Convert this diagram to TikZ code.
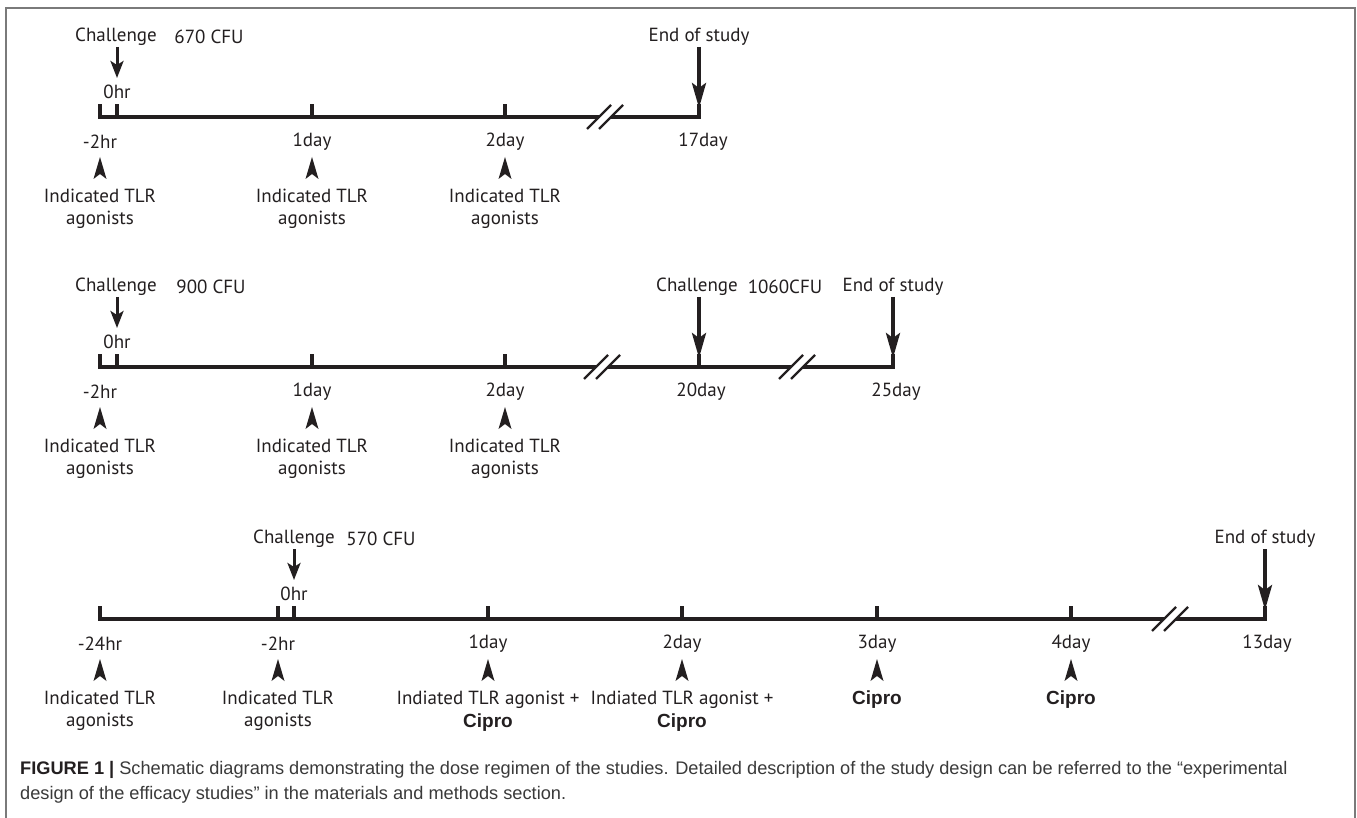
\documentclass[tikz,border=0pt]{standalone}
\usepackage{fontspec}
\setmainfont{PT Sans}
\newfontfamily\capfont{Liberation Sans}
\usetikzlibrary{arrows.meta}
\definecolor{ink}{HTML}{231F20}
\definecolor{framegray}{HTML}{7A7A7A}
\definecolor{capgray}{HTML}{3A3A3A}
\tikzset{
  lbl/.style={font=\fontsize{19}{22.5}\selectfont, text=ink, inner sep=0pt, align=center},
  axisline/.style={draw=ink, line width=4.5pt},
  tickmark/.style={draw=ink, line width=3.5pt},
  slash/.style={draw=ink, line width=2.4pt},
  shortarr/.style={draw=ink, line width=3pt, -{Stealth[length=17pt,width=13pt,inset=4pt]}},
  longarr/.style={draw=ink, line width=3.6pt, -{Stealth[length=25pt,width=14pt,inset=5pt]}},
  headfill/.style={fill=ink},
  captext/.style={anchor=base west, inner sep=0pt, text=capgray, font=\capfont\fontsize{18.2}{20}\selectfont},
}
\newcommand\brkmark[2]{%
  \draw[slash] (#1-18,#2+12) -- (#1+6,#2-12);
  \draw[slash] (#1-6,#2+12) -- (#1+18,#2-12);}
\newcommand\uphead[1]{%
  \fill[headfill] (#1) -- ++(6.5,22) -- ++(-6.5,-5) -- ++(-6.5,5) -- cycle;}
\begin{document}
\begin{tikzpicture}[x=1pt,y=-1pt]
\useasboundingbox (0,0) rectangle (1357,818);
\fill[white] (0,0) rectangle (1357,818);
% frame
\draw[framegray, line width=1.6pt] (6,820) -- (6,8) -- (1355,8) -- (1355,820);

% ================= Timeline 1 =================
\draw[axisline] (98.25,117) -- (599,117);
\draw[axisline] (611,117) -- (700.75,117);
\brkmark{605}{117}
\foreach \x/\n in {100/a,117/b,312/c,505/d,699/e}{
  \draw[tickmark] (\x,117) -- (\x,104);
  \coordinate (p1\n) at (\x,104);
}
\node[lbl] (c1t) at (116,37) {Challenge};
\node[lbl] (c1v) at (209,37) {670 CFU};
\node[lbl] (e1t) at (699,37) {End of study};
\coordinate (c1s) at (117,47);
\coordinate (c1e) at (117,78);
\draw[shortarr] (c1s) -- (c1e);
\node[lbl] (z1) at (117,92) {0hr};
\coordinate (e1s) at (699,47);
\draw[longarr] (e1s) -- ([yshift=-4pt]p1e);
\node[lbl] (l1a) at (100,142) {-2hr};
\node[lbl] (l1c) at (312,142) {1day};
\node[lbl] (l1d) at (505,142) {2day};
\node[lbl] (l1e) at (703,142) {17day};
\foreach \x/\n in {100/a,312/c,505/d}{
  \coordinate (h1\n) at (\x,157);
  \uphead{h1\n}
  \node[lbl] (g1\n) at (\x,209) {Indicated TLR\\agonists};
}

% ================= Timeline 2 =================
\draw[axisline] (98.25,367) -- (596,367);
\draw[axisline] (608,367) -- (791,367);
\draw[axisline] (803,367) -- (894.75,367);
\brkmark{602}{367}
\brkmark{797}{367}
\foreach \x/\n in {100/a,117/b,312/c,505/d,699/e,893/f}{
  \draw[tickmark] (\x,367) -- (\x,354);
  \coordinate (p2\n) at (\x,354);
}
\node[lbl] (c2t) at (116,287) {Challenge};
\node[lbl] (c2v) at (211,287) {900 CFU};
\node[lbl] (c2bt) at (697,287) {Challenge};
\node[lbl] (c2bv) at (785,287) {1060CFU};
\node[lbl] (e2t) at (893,287) {End of study};
\coordinate (c2s) at (117,297);
\coordinate (c2e) at (117,328);
\draw[shortarr] (c2s) -- (c2e);
\node[lbl] (z2) at (117,342) {0hr};
\coordinate (c2bs) at (699,297);
\draw[longarr] (c2bs) -- ([yshift=-4pt]p2e);
\coordinate (e2s) at (893,297);
\draw[longarr] (e2s) -- ([yshift=-4pt]p2f);
\node[lbl] (l2a) at (100,392) {-2hr};
\node[lbl] (l2c) at (312,392) {1day};
\node[lbl] (l2d) at (505,392) {2day};
\node[lbl] (l2e) at (701,392) {20day};
\node[lbl] (l2f) at (896,392) {25day};
\foreach \x/\n in {100/a,312/c,505/d}{
  \coordinate (h2\n) at (\x,407);
  \uphead{h2\n}
  \node[lbl] (g2\n) at (\x,459) {Indicated TLR\\agonists};
}

% ================= Timeline 3 =================
\draw[axisline] (98.25,619) -- (1164,619);
\draw[axisline] (1176,619) -- (1266.75,619);
\brkmark{1170}{619}
\foreach \x/\n in {100/a,278/b,294/c,488/d,682/e,877/f,1071/g,1265/h}{
  \draw[tickmark] (\x,619) -- (\x,606);
  \coordinate (p3\n) at (\x,606);
}
\node[lbl] (c3t) at (294,539) {Challenge};
\node[lbl] (c3v) at (381,539) {570 CFU};
\node[lbl] (e3t) at (1265,539) {End of study};
\coordinate (c3s) at (294,549);
\coordinate (c3e) at (294,580);
\draw[shortarr] (c3s) -- (c3e);
\node[lbl] (z3) at (294,594) {0hr};
\coordinate (e3s) at (1265,549);
\draw[longarr] (e3s) -- ([yshift=-4pt]p3h);
\node[lbl] (l3a) at (100,644) {-24hr};
\node[lbl] (l3b) at (278,644) {-2hr};
\node[lbl] (l3d) at (488,644) {1day};
\node[lbl] (l3e) at (682,644) {2day};
\node[lbl] (l3f) at (877,644) {3day};
\node[lbl] (l3g) at (1071,644) {4day};
\node[lbl] (l3h) at (1267,644) {13day};
\foreach \x/\n in {100/a,278/b,488/d,682/e,877/f,1071/g}{
  \coordinate (h3\n) at (\x,659);
  \uphead{h3\n}
}
\node[lbl] (g3a) at (100,711) {Indicated TLR\\agonists};
\node[lbl] (g3b) at (278,711) {Indicated TLR\\agonists};
\node[lbl] (g3d) at (488,711) {Indiated TLR agonist +\\{\capfont\bfseries Cipro}};
\node[lbl] (g3e) at (682,711) {Indiated TLR agonist +\\{\capfont\bfseries Cipro}};
\node[lbl] (g3f) at (877,700) {\capfont\bfseries Cipro};
\node[lbl] (g3g) at (1071,700) {\capfont\bfseries Cipro};

% ================= Caption =================
\node[captext] (cap1) at (20,774)
  {{\bfseries\color{ink}FIGURE 1 |} Schematic diagrams demonstrating the dose regimen of the studies. Detailed description of the study design can be referred to the “experimental};
\node[captext] (cap2) at (20,799)
  {design of the efficacy studies” in the materials and methods section.};
\end{tikzpicture}
\end{document}
